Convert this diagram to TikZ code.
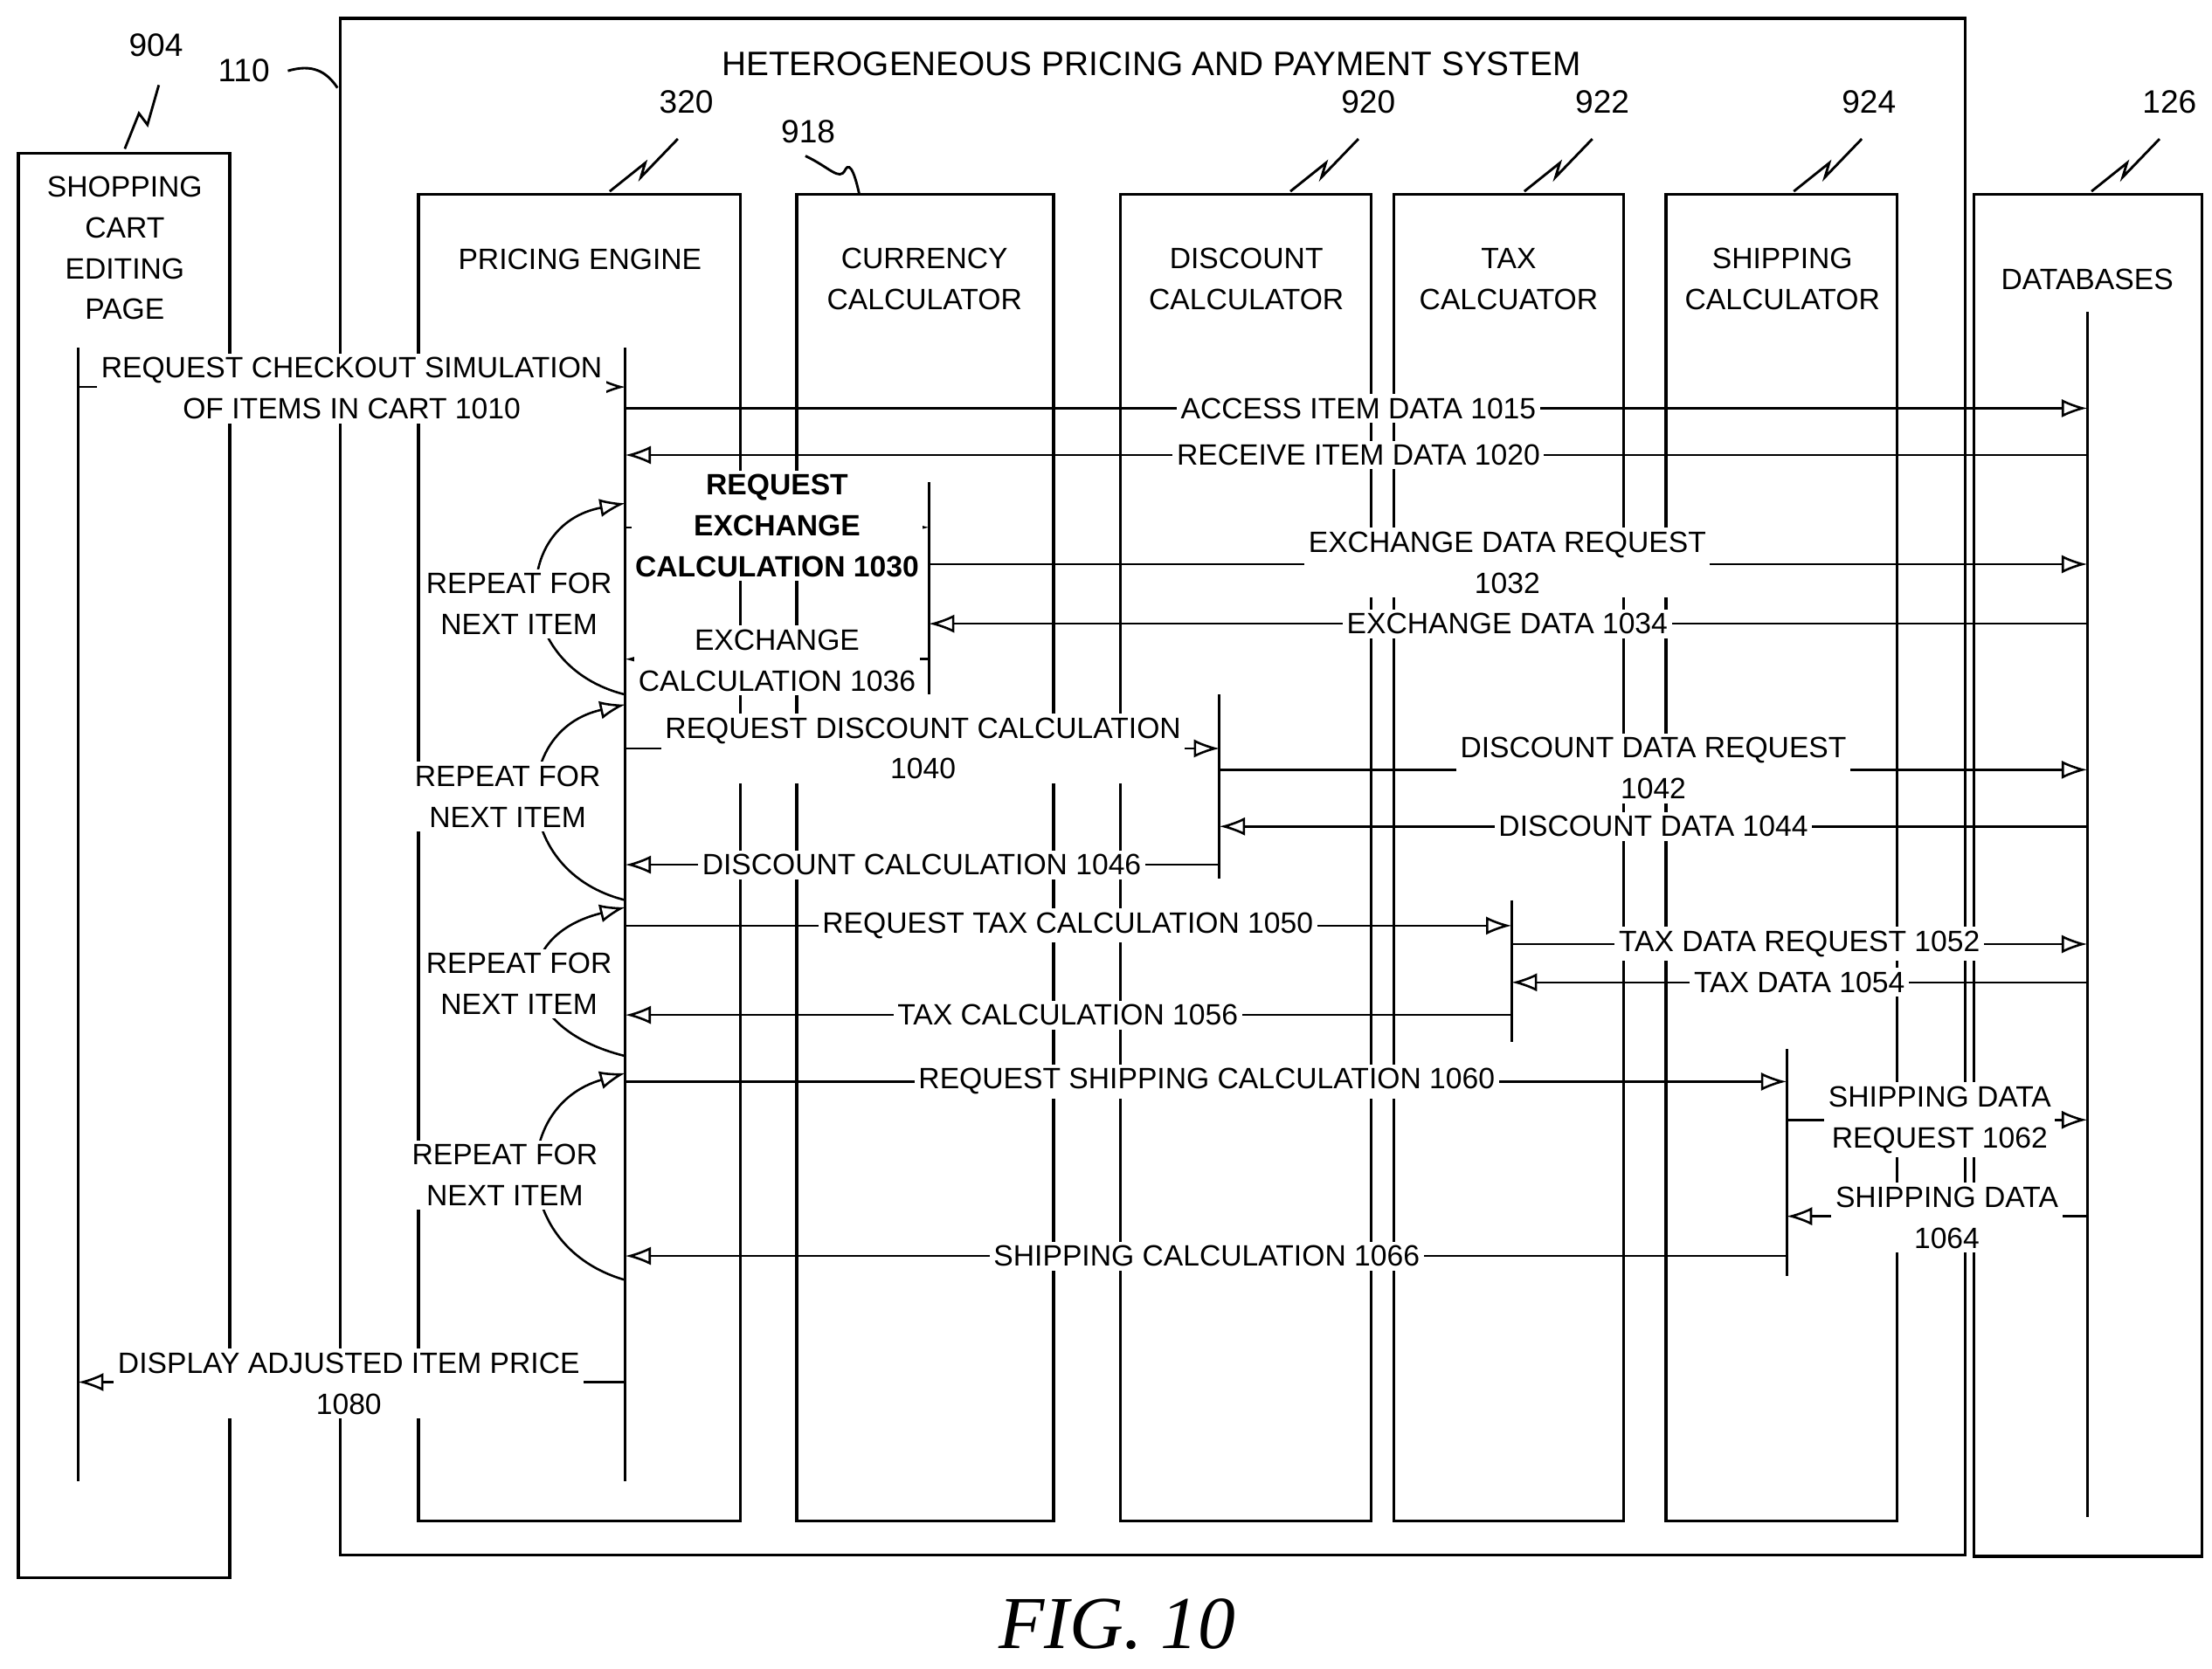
\documentclass[tikz,border=0pt]{standalone}
\usepackage{fontspec}
\setmainfont{Liberation Sans}
\newfontfamily\figfont{Liberation Serif}
\usetikzlibrary{arrows.meta}

\tikzset{
  box/.style={draw, line width=0.6pt},
  life/.style={line width=0.5pt},
  msg/.style={line width=0.45pt, -{Latex[open,length=1.8mm,width=1.3mm]}},
  lbl/.style={fill=white, inner sep=0.8pt, align=center, font=\fontsize{5.9}{8.2}\selectfont},
  head/.style={align=center, font=\fontsize{5.9}{8.2}\selectfont},
  refn/.style={font=\fontsize{6.5}{8}\selectfont},
  loop/.style={line width=0.45pt, -{Latex[open,length=1.8mm,width=1.3mm]}}
}
% message: y, from x, to x, label x, text
\newcommand{\msgline}[5]{%
  \draw[msg] (#2,#1) -- (#3,#1);
  \node[lbl] at (#4,#1) {#5};}

\begin{document}
\begin{tikzpicture}[x=0.1mm, y=-0.1mm]
  \useasboundingbox (0,0) rectangle (1560,1177);

  % boxes
  \draw[box] (13,108) rectangle (162,1113);
  \draw[box] (240,13) rectangle (1386,1097);
  \draw[box] (295,137) rectangle (522,1073);
  \draw[box] (562,137) rectangle (743,1073);
  \draw[box] (790,137) rectangle (967,1073);
  \draw[box] (983,137) rectangle (1145,1073);
  \draw[box] (1175,137) rectangle (1338,1073);
  \draw[box] (1392,137) rectangle (1553,1098);

  \node[head] (title) at (812,45) {\fontsize{6.8}{8}\selectfont HETEROGENEOUS PRICING AND PAYMENT SYSTEM};
  \node[head] (cart) at (88,175) {SHOPPING\\CART\\EDITING\\PAGE};
  \node[head] (pe) at (409,183) {PRICING ENGINE};
  \node[head] (cc) at (652,197) {CURRENCY\\CALCULATOR};
  \node[head] (dc) at (879,197) {DISCOUNT\\CALCULATOR};
  \node[head] (tc) at (1064,197) {TAX\\CALCUATOR};
  \node[head] (sc) at (1257,197) {SHIPPING\\CALCULATOR};
  \node[head] (db) at (1472,197) {DATABASES};

  % reference numbers
  \node[refn] (r904) at (110,32) {904};
  \draw[life] (88,105) -- (98,80) -- (104,88) -- (112,60);
  \node[refn] (r110) at (172,50) {110};
  \draw[life] (203,50) .. controls (220,45) and (230,50) .. (238,62);
  \node[refn] (r320) at (484,72) {320};
  \draw[life] (430,135) -- (455,115) -- (452,125) -- (478,98);
  \node[refn] (r918) at (570,93) {918};
  \draw[life] (568,110) .. controls (585,118) and (592,128) .. (596,120) .. controls (600,112) and (604,128) .. (606,137);
  \node[refn] (r920) at (965,72) {920};
  \draw[life] (910,135) -- (935,115) -- (932,125) -- (958,98);
  \node[refn] (r922) at (1130,72) {922};
  \draw[life] (1075,135) -- (1100,115) -- (1097,125) -- (1123,98);
  \node[refn] (r924) at (1318,72) {924};
  \draw[life] (1265,135) -- (1290,115) -- (1287,125) -- (1313,98);
  \node[refn] (r126) at (1530,72) {126};
  \draw[life] (1475,135) -- (1500,115) -- (1497,125) -- (1523,98);

  % lifelines
  \draw[life] (55,245) -- (55,1045);
  \draw[life] (441,245) -- (441,1045);
  \draw[life] (655,340) -- (655,490);
  \draw[life] (860,490) -- (860,620);
  \draw[life] (1066,635) -- (1066,735);
  \draw[life] (1260,740) -- (1260,900);
  \draw[life] (1472,220) -- (1472,1070);

  % messages
  \draw[msg] (55,273) -- (441,273);
  \node[lbl] at (248,274) {REQUEST CHECKOUT SIMULATION\\OF ITEMS IN CART 1010};
  \msgline{288}{441}{1472}{958}{ACCESS ITEM DATA 1015}
  \msgline{321}{1472}{441}{958}{RECEIVE ITEM DATA 1020}
  \draw[msg] (441,372) -- (655,372);
  \node[lbl, font=\bfseries\fontsize{5.9}{8.2}\selectfont] at (548,371) {REQUEST\\EXCHANGE\\CALCULATION 1030};
  \draw[msg] (655,398) -- (1472,398);
  \node[lbl] at (1063,397) {EXCHANGE DATA REQUEST\\1032};
  \msgline{440}{1472}{655}{1063}{EXCHANGE DATA 1034}
  \draw[msg] (655,465) -- (441,465);
  \node[lbl] at (548,466) {EXCHANGE\\CALCULATION 1036};
  \draw[msg] (441,528) -- (860,528);
  \node[lbl] at (651,528) {REQUEST DISCOUNT CALCULATION\\1040};
  \draw[msg] (860,543) -- (1472,543);
  \node[lbl] at (1166,542) {DISCOUNT DATA REQUEST\\1042};
  \msgline{583}{1472}{860}{1166}{DISCOUNT DATA 1044}
  \msgline{610}{860}{441}{650}{DISCOUNT CALCULATION 1046}
  \msgline{653}{441}{1066}{753}{REQUEST TAX CALCULATION 1050}
  \msgline{666}{1066}{1472}{1269}{TAX DATA REQUEST 1052}
  \msgline{693}{1472}{1066}{1269}{TAX DATA 1054}
  \msgline{716}{1066}{441}{753}{TAX CALCULATION 1056}
  \msgline{763}{441}{1260}{851}{REQUEST SHIPPING CALCULATION 1060}
  \draw[msg] (1260,790) -- (1472,790);
  \node[lbl] at (1368,790) {SHIPPING DATA\\REQUEST 1062};
  \draw[msg] (1472,858) -- (1260,858);
  \node[lbl] at (1373,859) {SHIPPING DATA\\1064};
  \msgline{886}{1260}{441}{851}{SHIPPING CALCULATION 1066}
  \draw[msg] (441,975) -- (55,975);
  \node[lbl] at (246,976) {DISPLAY ADJUSTED ITEM PRICE\\1080};

  % repeat loops
  \draw[loop] (441,490) .. controls (360,470) and (360,370) .. (441,355);
  \node[lbl] at (366,426) {REPEAT FOR\\NEXT ITEM};
  \draw[loop] (441,635) .. controls (360,615) and (360,515) .. (441,497);
  \node[lbl] at (358,562) {REPEAT FOR\\NEXT ITEM};
  \draw[loop] (441,745) .. controls (360,725) and (360,660) .. (441,640);
  \node[lbl] at (366,694) {REPEAT FOR\\NEXT ITEM};
  \draw[loop] (441,903) .. controls (360,880) and (360,780) .. (441,757);
  \node[lbl] at (356,829) {REPEAT FOR\\NEXT ITEM};

  \node[font=\figfont\itshape\fontsize{15}{18}\selectfont] (fig) at (788,1146) {FIG. 10};
\end{tikzpicture}
\end{document}
